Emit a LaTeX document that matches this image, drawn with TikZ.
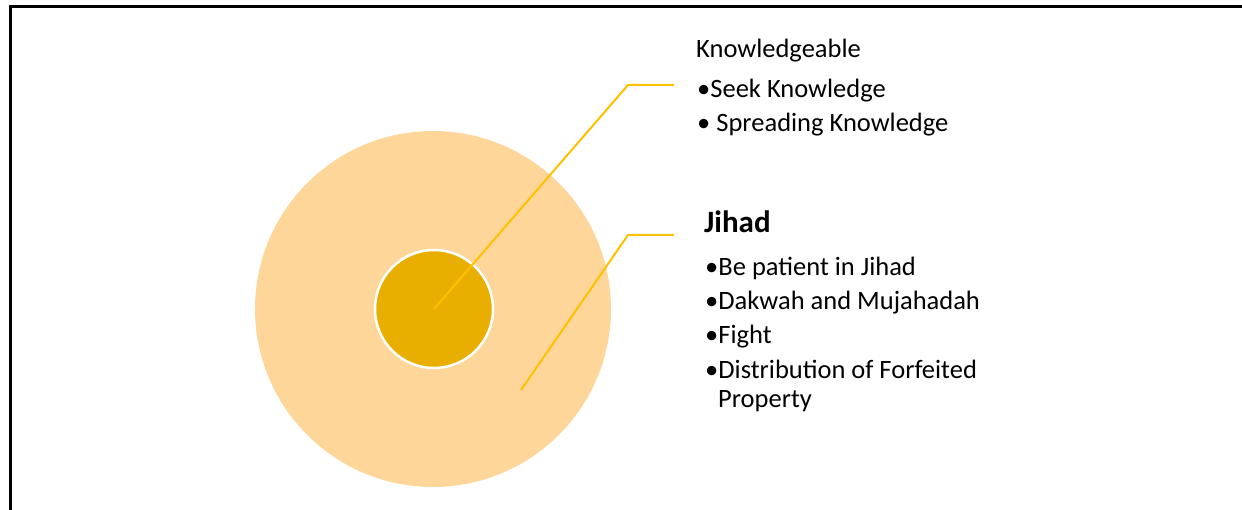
\documentclass[tikz,border=0pt]{standalone}
\usepackage{fontspec}
\setmainfont{Carlito}
\definecolor{outerc}{HTML}{FFD699}
\definecolor{innerc}{HTML}{E8AF00}
\definecolor{linec}{HTML}{FFC000}
\tikzset{
  txt/.style={anchor=base west, inner sep=0pt, font=\fontsize{26.5}{32}\selectfont},
  head/.style={anchor=base west, inner sep=0pt, font=\fontsize{31}{36}\selectfont\bfseries},
  leader/.style={draw=linec, line width=2pt},
  frame/.style={draw=black, line width=3pt}
}
\begin{document}
\begin{tikzpicture}[x=1pt,y=-1pt]
\useasboundingbox (0,0) rectangle (1242,510);
\coordinate (tl) at (10.5,6.5);
\coordinate (tr) at (1243,6.5);
\coordinate (bl) at (10.5,511);
\draw[frame] (tr) -- (tl) -- (bl);
\node[circle, fill=outerc, minimum size=356pt, inner sep=0pt] (outer) at (433,309) {};
\node[circle, fill=innerc, draw=white, line width=2.5pt, minimum size=118pt, inner sep=0pt] (inner) at (434,309) {};
\coordinate (k1) at (628,85);
\coordinate (k2) at (674,85);
\coordinate (j0) at (521,390);
\coordinate (j1) at (628,235);
\coordinate (j2) at (674,235);
\draw[leader] (inner.center) -- (k1) -- (k2);
\draw[leader] (j0) -- (j1) -- (j2);
\node[txt] (kh) at (696,57.5) {Knowledgeable};
\node[txt] (k1t) at (697,98) {•Seek Knowledge};
\node[txt] (k2t) at (697,132) {• Spreading Knowledge};
\node[head] (jh) at (704,233) {Jihad};
\node[txt] (j1t) at (705,276) {•Be patient in Jihad};
\node[txt] (j2t) at (705,310) {•Dakwah and Mujahadah};
\node[txt] (j3t) at (705,343.5) {•Fight};
\node[txt] (j4t) at (705,378) {•Distribution of Forfeited};
\node[txt] (j5t) at (718,407.5) {Property};
\end{tikzpicture}
\end{document}
